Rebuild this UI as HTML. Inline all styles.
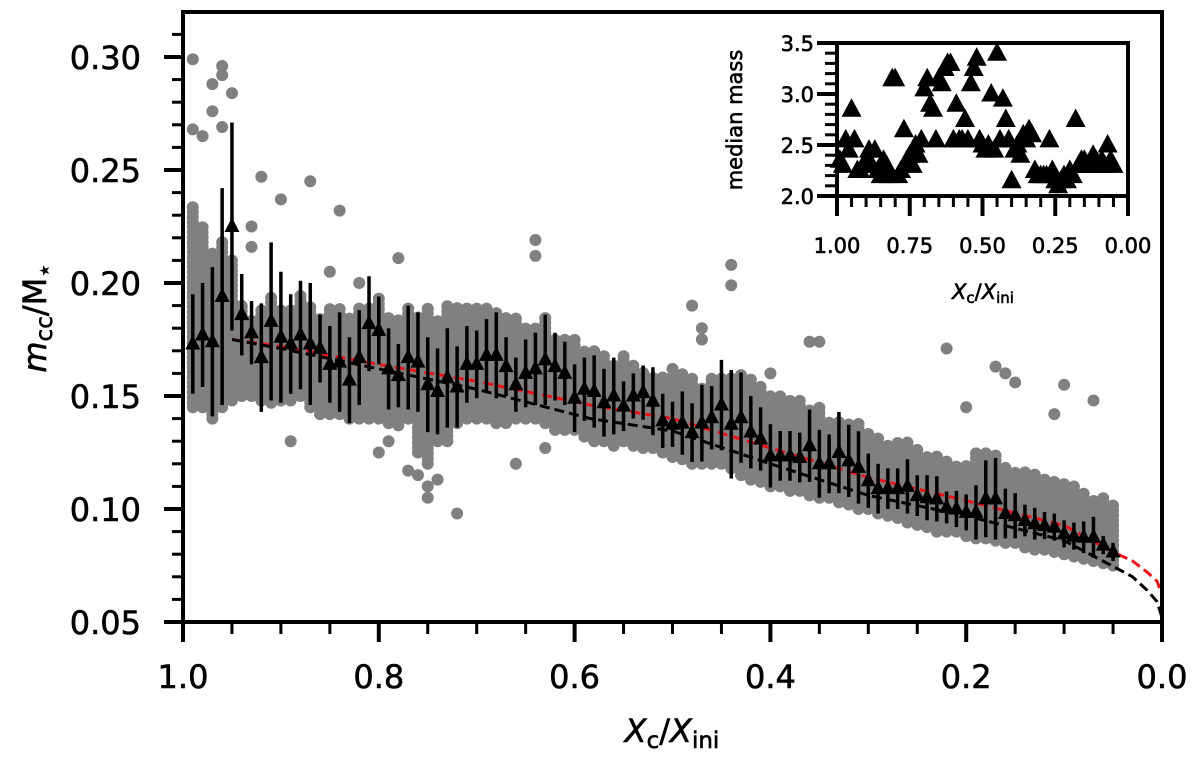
<!DOCTYPE html>
<html><head><meta charset="utf-8">
<style>
html,body{margin:0;padding:0;background:#fff;}
svg{display:block;font-family:"DejaVu Sans","Liberation Sans",sans-serif;}
svg text{stroke:#000;stroke-width:0.6px;fill:#000;}
</style></head>
<body>
<svg id="chart" width="1200" height="758" viewBox="0 0 1200 758" xmlns="http://www.w3.org/2000/svg">
<rect x="0" y="0" width="1200" height="758" fill="#fff"/>
<g id="scatter"></g>
<g id="lines"></g>
<g id="medians"></g>
<g id="axes"></g>
<g id="inset"></g>
</svg>
<script>
// ---- main chart data ----
const binX = [];
for (let i = 0; i < 95; i++) binX.push(+(0.99 - 0.01 * i).toFixed(2));
const medianY = [0.173,0.177,0.174,0.194,0.225,0.186,0.178,0.167,0.183,0.176,
0.173,0.177,0.173,0.171,0.164,0.165,0.157,0.167,0.182,0.179,
0.162,0.159,0.167,0.165,0.155,0.152,0.158,0.154,0.164,0.164,
0.168,0.168,0.163,0.155,0.160,0.162,0.166,0.163,0.160,0.149,
0.153,0.152,0.147,0.150,0.1455,0.150,0.1515,0.1477,0.139,0.1375,
0.138,0.1338,0.138,0.1404,0.146,0.1375,0.1404,0.134,0.131,0.1235,
0.1235,0.1235,0.1228,0.128,0.120,0.120,0.125,0.1213,0.1184,0.1125,
0.109,0.109,0.109,0.110,0.1059,0.105,0.1045,0.1007,0.100,0.0985,
0.0985,0.1045,0.1045,0.098,0.097,0.0949,0.0935,0.0927,0.092,0.089,
0.088,0.0875,0.0875,0.084,0.081];
const medianErr = [0.022,0.023,0.033,0.048,0.046,0.018,0.014,0.024,0.035,0.029,
0.022,0.024,0.027,0.015,0.017,0.022,0.019,0.021,0.021,0.015,
0.018,0.014,0.023,0.022,0.021,0.019,0.022,0.018,0.017,0.015,
0.016,0.019,0.013,0.012,0.015,0.016,0.020,0.015,0.014,0.015,
0.014,0.016,0.015,0.017,0.011,0.010,0.012,0.015,0.012,0.010,
0.014,0.013,0.017,0.014,0.020,0.024,0.020,0.016,0.014,0.014,
0.011,0.011,0.011,0.016,0.015,0.013,0.018,0.016,0.016,0.012,
0.011,0.009,0.009,0.012,0.009,0.010,0.010,0.007,0.008,0.008,
0.012,0.017,0.018,0.011,0.010,0.007,0.007,0.006,0.006,0.006,
0.006,0.007,0.009,0.004,0.004];
const grayHi = [0.235,0.225,0.215,0.22,0.21,0.19,0.185,0.19,0.195,0.19,
0.19,0.195,0.19,0.185,0.19,0.19,0.185,0.19,0.19,0.195,
0.185,0.185,0.19,0.185,0.19,0.185,0.19,0.19,0.19,0.19,
0.19,0.188,0.185,0.185,0.18,0.18,0.185,0.175,0.175,0.175,
0.17,0.17,0.168,0.165,0.168,0.165,0.162,0.16,0.16,0.16,
0.16,0.158,0.155,0.158,0.158,0.16,0.16,0.158,0.155,0.15,
0.15,0.15,0.148,0.145,0.145,0.14,0.14,0.138,0.138,0.135,
0.133,0.13,0.13,0.13,0.128,0.125,0.125,0.123,0.12,0.12,
0.125,0.125,0.125,0.12,0.118,0.118,0.117,0.115,0.113,0.112,
0.11,0.108,0.105,0.105,0.103];
const grayLo = [0.145,0.145,0.14,0.145,0.148,0.15,0.15,0.148,0.147,0.148,
0.148,0.15,0.145,0.142,0.142,0.142,0.14,0.14,0.14,0.14,
0.138,0.137,0.14,0.125,0.12,0.13,0.13,0.138,0.14,0.14,
0.14,0.138,0.138,0.14,0.14,0.14,0.138,0.135,0.135,0.135,
0.132,0.13,0.13,0.128,0.13,0.128,0.127,0.127,0.125,0.123,
0.122,0.12,0.12,0.12,0.12,0.118,0.115,0.113,0.112,0.11,
0.11,0.108,0.108,0.106,0.105,0.105,0.103,0.102,0.1,0.1,
0.098,0.097,0.096,0.094,0.093,0.092,0.09,0.09,0.09,0.088,
0.087,0.087,0.086,0.085,0.085,0.083,0.082,0.082,0.081,0.08,
0.079,0.078,0.077,0.076,0.075];
const outX = [0.99,0.96,0.96,0.97,0.95,0.97,0.96,0.99,0.98,0.92,0.87,0.84,0.90,0.93,0.78,0.93,0.64,0.64,0.44,0.44,
0.72,0.75,0.75,0.74,0.76,0.89,0.79,0.80,0.77,0.66,0.63,0.36,0.35,0.22,0.17,0.16,0.15,0.10,0.11,0.07,0.20,0.48,0.47,0.47,0.40,0.55,0.50,0.85,0.82];
const outY = [0.299,0.296,0.292,0.288,0.284,0.276,0.269,0.268,0.265,0.247,0.245,0.232,0.237,0.225,0.211,0.216,0.219,0.212,0.208,0.199,
0.098,0.105,0.110,0.113,0.115,0.130,0.130,0.125,0.117,0.120,0.127,0.174,0.174,0.171,0.163,0.160,0.156,0.155,0.142,0.148,0.145,0.190,0.180,0.175,0.160,0.150,0.162,0.205,0.200];
const redX = [0.95,0.9,0.8,0.7,0.584,0.5,0.4,0.3,0.2,0.1,0.05,0.03,0.015,0.005,0.0];
const redY = [0.175,0.172,0.164,0.1565,0.146,0.140,0.127,0.114,0.1037,0.0927,0.081,0.077,0.072,0.068,0.062];
const blkX = [0.95,0.9,0.8,0.7,0.584,0.5,0.4,0.3,0.2,0.1,0.043,0.03,0.015,0.005,0.0];
const blkY = [0.175,0.171,0.162,0.153,0.140,0.1345,0.120,0.106,0.097,0.086,0.073,0.070,0.064,0.059,0.052];
const yTicks = [0.05,0.10,0.15,0.20,0.25,0.30];
const yTickLabels = ["0.05","0.10","0.15","0.20","0.25","0.30"];
const xTicks = [1.0,0.8,0.6,0.4,0.2,0.0];
const xTickLabels = ["1.0","0.8","0.6","0.4","0.2","0.0"];
// ---- inset data ----
const insetY = [2.35,2.3,2.55,2.45,2.85,2.55,2.25,2.25,2.3,2.35,
2.45,2.3,2.45,2.25,2.2,2.35,2.3,2.2,3.15,3.15,
2.2,2.25,2.65,2.35,2.4,2.3,2.5,2.4,2.55,3.05,
3.15,2.9,2.85,2.55,3.15,3.1,3.25,3.3,3.3,2.55,
2.9,2.55,2.55,2.75,2.55,3.1,3.25,3.35,2.55,2.5,
2.45,2.5,3.0,2.45,3.4,2.55,2.95,2.75,2.55,2.15,
2.45,2.5,2.4,2.6,2.55,2.65,2.6,2.25,2.2,2.2,
2.2,2.2,2.55,2.25,2.15,2.1,2.15,2.2,2.15,2.25,
2.2,2.75,2.3,2.35,2.35,2.3,2.3,2.4,2.35,2.3,
2.35,2.3,2.5,2.35,2.3];
const insetYTicks = [2.0,2.5,3.0,3.5];
const insetYTickLabels = ["2.0","2.5","3.0","3.5"];
const insetXTicks = [1.0,0.75,0.5,0.25,0.0];
const insetXTickLabels = ["1.00","0.75","0.50","0.25","0.00"];

const NS = "http://www.w3.org/2000/svg";
function mk(tag, attrs, parent){const e=document.createElementNS(NS,tag);for(const k in attrs)e.setAttribute(k,attrs[k]);parent.appendChild(e);return e;}

const L=183, R=1162, T=12, B=622;
const xs = v => R - v*(R-L);
const ys = v => B - (v-0.05)*2260;

// gray scatter
const gS = document.getElementById('scatter');
for (let i=0;i<binX.length;i++){
  const cx = xs(binX[i]);
  const yTop = ys(grayHi[i]), yBot = ys(grayLo[i]);
  for (let y=yBot; y>=yTop; y-=5){
    const c = mk('circle',{cx:cx,cy:y,r:6,fill:'#808080'},gS);
    
    
  }
}
for (let i=0;i<outX.length;i++){
  const c = mk('circle',{cx:xs(outX[i]),cy:ys(outY[i]),r:6,fill:'#808080'},gS);
  
  
}

// model lines
const gL = document.getElementById('lines');
function poly(X,Y){return X.map((x,i)=>xs(x).toFixed(1)+','+ys(Y[i]).toFixed(1)).join(' ');}
const rl = mk('polyline',{points:poly(redX,redY),fill:'none',stroke:'#e8141c','stroke-width':3,'stroke-dasharray':'10,5'},gL);


const bl = mk('polyline',{points:poly(blkX,blkY),fill:'none',stroke:'#000','stroke-width':3,'stroke-dasharray':'10,5'},gL);



// medians with error bars
const gM = document.getElementById('medians');
for (let i=0;i<binX.length;i++){
  const cx = xs(binX[i]), cy = ys(medianY[i]);
  const eb = mk('line',{x1:cx,x2:cx,y1:ys(medianY[i]+medianErr[i]),y2:ys(medianY[i]-medianErr[i]),stroke:'#000','stroke-width':3.5},gM);
  
  
  const t = mk('polygon',{points:`${cx},${cy-9} ${cx-7.5},${cy+5.5} ${cx+7.5},${cy+5.5}`,fill:'#000'},gM);
  
  
}

// main axes
const gA = document.getElementById('axes');
const fr = mk('rect',{x:L,y:T,width:R-L,height:B-T,fill:'none',stroke:'#000','stroke-width':4},gA);


for (let k=0; k<=26; k++){
  const v=0.05+k*0.01, major = k%5===0;
  const y=ys(v);
  const tk = mk('line',{x1:L,x2:L-(major?19:11),y1:y,y2:y,stroke:'#000','stroke-width':major?4:3},gA);
  
  
}
yTicks.forEach((v,i)=>{
  const t = mk('text',{x:141,y:ys(v)+12,'text-anchor':'end','font-size':32},gA);
  t.textContent = yTickLabels[i];
  
  
});
for (let k=0;k<=20;k++){
  const v=k*0.05, major = k%4===0, x=xs(v);
  const tk = mk('line',{x1:x,x2:x,y1:B,y2:B+(major?20:12),stroke:'#000','stroke-width':major?4:3},gA);
  
  
}
xTicks.forEach((v,i)=>{
  const t = mk('text',{x:xs(v),y:688,'text-anchor':'middle','font-size':32},gA);
  t.textContent = xTickLabels[i];
  
  
});
const xl = mk('text',{x:672,y:742,'text-anchor':'middle','font-size':32},gA);
xl.innerHTML = '<tspan font-style="italic">X</tspan><tspan font-size="23" dy="6">c</tspan><tspan dy="-6">/</tspan><tspan font-style="italic">X</tspan><tspan font-size="23" dy="6">ini</tspan>';


const yl = mk('text',{x:0,y:0,'text-anchor':'middle','font-size':32,transform:'translate(46,318) rotate(-90)'},gA);
yl.innerHTML = '<tspan font-style="italic">m</tspan><tspan font-size="23" dy="6">cc</tspan><tspan dy="-6">/M</tspan><tspan font-size="23" dy="6">⋆</tspan>';



// inset
const gI = document.getElementById('inset');
const iL=837, iR=1128, iT=43, iB=196;
const ixs = v => iR - v*(iR-iL);
const iys = v => iB - (v-2.0)/1.5*(iB-iT);
const bg = mk('rect',{x:iL,y:iT,width:iR-iL,height:iB-iT,fill:'#fff'},gI);


for (let i=0;i<insetY.length;i++){
  const cx=ixs(binX[i]), cy=iys(insetY[i]);
  const t = mk('polygon',{points:`${cx},${cy-11} ${cx-10},${cy+7.5} ${cx+10},${cy+7.5}`,fill:'#000'},gI);
  
  
}
const ifr = mk('rect',{x:iL,y:iT,width:iR-iL,height:iB-iT,fill:'none',stroke:'#000','stroke-width':4},gI);


for (let k=0;k<=15;k++){
  const v=2.0+k*0.1, major=k%5===0, y=iys(v);
  const tk = mk('line',{x1:iL,x2:iL-(major?20:12),y1:y,y2:y,stroke:'#000','stroke-width':major?4:3},gI);
  
  
}
insetYTicks.forEach((v,i)=>{
  const t = mk('text',{x:814,y:iys(v)+8,'text-anchor':'end','font-size':21},gI);
  t.textContent = insetYTickLabels[i];
  
  
});
for (let k=0;k<=20;k++){
  const v=k*0.05, major=k%5===0, x=ixs(v);
  const tk = mk('line',{x1:x,x2:x,y1:iB,y2:iB+(major?20:11),stroke:'#000','stroke-width':major?4:3},gI);
  
  
}
insetXTicks.forEach((v,i)=>{
  const t = mk('text',{x:ixs(v),y:253,'text-anchor':'middle','font-size':21},gI);
  t.textContent = insetXTickLabels[i];
  
  
});
const ixl = mk('text',{x:983,y:299,'text-anchor':'middle','font-size':21},gI);
ixl.innerHTML = '<tspan font-style="italic">X</tspan><tspan font-size="15" dy="4">c</tspan><tspan dy="-4">/</tspan><tspan font-style="italic">X</tspan><tspan font-size="15" dy="4">ini</tspan>';


const iyl = mk('text',{x:0,y:0,'text-anchor':'middle','font-size':21,transform:'translate(742,120) rotate(-90)'},gI);
iyl.textContent = 'median mass';


</script>
</body></html>
